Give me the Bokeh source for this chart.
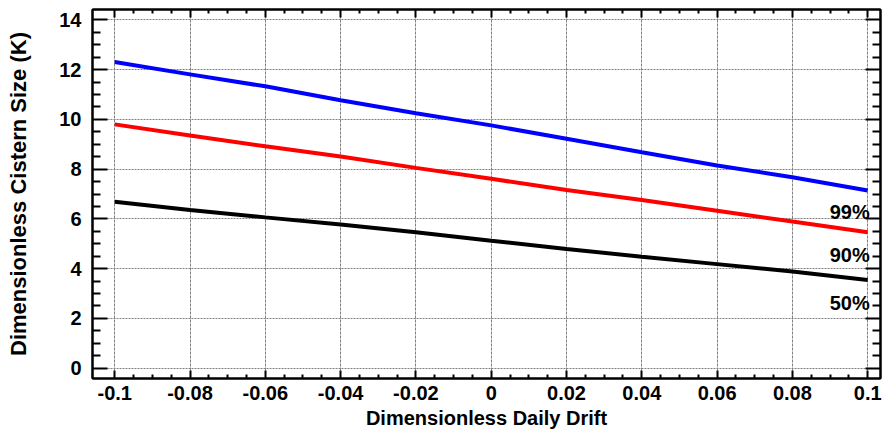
from bokeh.plotting import figure
from bokeh.models import LinearAxis, FixedTicker, Range1d, ColumnDataSource
from bokeh.embed import file_html
from bokeh.resources import INLINE
from bokeh.core.properties import value

# ---- data ----
drift = [-0.1, -0.08, -0.06, -0.04, -0.02, 0.0, 0.02, 0.04, 0.06, 0.08, 0.1]
k99 = [12.31, 11.81, 11.33, 10.77, 10.25, 9.76, 9.22, 8.68, 8.15, 7.67, 7.14]
k90 = [9.80, 9.35, 8.92, 8.51, 8.05, 7.61, 7.16, 6.76, 6.33, 5.89, 5.46]
k50 = [6.69, 6.36, 6.06, 5.77, 5.46, 5.12, 4.79, 4.48, 4.18, 3.88, 3.54]

x_ticks = [-0.1, -0.08, -0.06, -0.04, -0.02, 0.0, 0.02, 0.04, 0.06, 0.08, 0.1]
x_tick_labels = ["-0.1", "-0.08", "-0.06", "-0.04", "-0.02", "0",
                 "0.02", "0.04", "0.06", "0.08", "0.1"]
y_ticks = [0, 2, 4, 6, 8, 10, 12, 14]
y_tick_labels = ["0", "2", "4", "6", "8", "10", "12", "14"]

pct_labels = ["99%", "90%", "50%"]
pct_label_y = [6.26, 4.54, 2.63]

x_title = "Dimensionless Daily Drift"
y_title = "Dimensionless Cistern Size (K)"

FONT = "Liberation Sans"


def minors(ticks, n=4):
    out = []
    for a, b in zip(ticks[:-1], ticks[1:]):
        for k in range(1, n):
            out.append(a + (b - a) * k / n)
    return out


x_ticker = FixedTicker(ticks=x_ticks, minor_ticks=minors(x_ticks))
y_ticker = FixedTicker(ticks=y_ticks, minor_ticks=minors(y_ticks))

p = figure(width=882, height=433, output_backend="svg", toolbar_location=None,
           x_range=Range1d(-0.1059, 0.1034), y_range=Range1d(-0.42, 14.42),
           min_border_left=92, min_border_right=2, min_border_top=9, min_border_bottom=55)

p.background_fill_color = "white"
p.border_fill_color = "white"
p.outline_line_color = "black"
p.outline_line_width = 2

# grid
p.xgrid.ticker = x_ticker
p.ygrid.ticker = y_ticker
for g, dash in ((p.xgrid, "3 1"), (p.ygrid, "2 1")):
    g.grid_line_color = "#808080"
    g.grid_line_width = 1
    g.grid_line_dash = dash

# lines
p.line(drift, k99, line_color="#0000ff", line_width=4)
p.line(drift, k90, line_color="#ff0000", line_width=4)
p.line(drift, k50, line_color="#000000", line_width=4)

# percent labels
src = ColumnDataSource(dict(x=[drift[-1]] * len(pct_labels), y=pct_label_y, t=pct_labels))
p.text(x="x", y="y", text="t", source=src, text_align="right", text_baseline="alphabetic",
       text_font=value(FONT), text_font_style="bold", text_font_size="20px", text_color="black",
       x_offset=2)


def style_axis(ax, ticker, major_in, minor_in):
    ax.ticker = ticker
    ax.axis_line_color = "black"
    ax.axis_line_width = 2
    ax.major_tick_line_color = "black"
    ax.major_tick_line_width = 2
    ax.minor_tick_line_color = "black"
    ax.minor_tick_line_width = 2
    ax.major_tick_in = major_in
    ax.major_tick_out = 0
    ax.minor_tick_in = minor_in
    ax.minor_tick_out = 0
    ax.major_label_text_font = FONT
    ax.major_label_text_font_style = "bold"
    ax.major_label_text_color = "black"
    ax.axis_label_text_font = FONT
    ax.axis_label_text_font_style = "bold"
    ax.axis_label_text_color = "black"


xa = p.xaxis[0]
style_axis(xa, x_ticker, 8, 4)
xa.major_label_overrides = {t: s for t, s in zip(x_ticks, x_tick_labels)}
xa.major_label_text_font_size = "20px"
xa.major_label_standoff = 7
xa.axis_label = x_title
xa.axis_label_text_font_size = "20px"
xa.axis_label_standoff = 4

ya = p.yaxis[0]
style_axis(ya, y_ticker, 15, 8)
ya.major_label_overrides = {t: s for t, s in zip(y_ticks, y_tick_labels)}
ya.major_label_text_font_size = "20px"
ya.major_label_standoff = 11
ya.axis_label = y_title
ya.axis_label_text_font_size = "22px"
ya.axis_label_standoff = 25

# mirrored tick-only axes on top and right (no labels drawn)
top = LinearAxis()
style_axis(top, x_ticker, 8, 4)
top.major_label_text_font_size = "1px"
top.major_label_text_color = None
top.major_label_standoff = 0
p.add_layout(top, "above")

right = LinearAxis()
style_axis(right, y_ticker, 15, 8)
right.major_label_text_font_size = "1px"
right.major_label_text_color = None
right.major_label_standoff = 0
p.add_layout(right, "right")

open("out.html", "w").write(file_html(p, INLINE))
